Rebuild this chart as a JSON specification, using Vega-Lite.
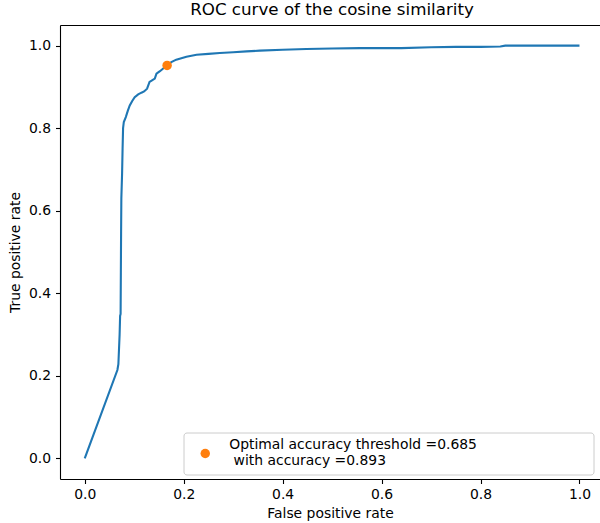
{
  "$schema": "https://vega.github.io/schema/vega-lite/v6.json",
  "width": 540,
  "height": 454,
  "autosize": {"type": "none"},
  "padding": {"left": 60, "top": 25, "right": 0, "bottom": 44},
  "background": "white",
  "title": {
    "text": "ROC curve of the cosine similarity",
    "anchor": "middle",
    "frame": "group",
    "dx": 2,
    "offset": -7,
    "baseline": "alphabetic",
    "font": "DejaVu Sans",
    "fontSize": 16.7,
    "fontWeight": "normal",
    "color": "black"
  },
  "config": {
    "view": {"stroke": null},
    "font": "DejaVu Sans",
    "axis": {
      "grid": false,
      "domainColor": "black",
      "domainWidth": 1.1,
      "tickColor": "black",
      "tickWidth": 1.1,
      "tickSize": 4.5,
      "labelFont": "DejaVu Sans",
      "labelFontSize": 13.9,
      "labelColor": "black",
      "titleFont": "DejaVu Sans",
      "titleFontSize": 13.9,
      "titleFontWeight": "normal",
      "titleColor": "black"
    }
  },
  "datasets": {
    "roc": [
      {"fpr": 0.0, "tpr": 0.0},
      {"fpr": 0.066, "tpr": 0.214},
      {"fpr": 0.068, "tpr": 0.228},
      {"fpr": 0.0705, "tpr": 0.3},
      {"fpr": 0.0715, "tpr": 0.345},
      {"fpr": 0.0725, "tpr": 0.35},
      {"fpr": 0.073, "tpr": 0.45},
      {"fpr": 0.0735, "tpr": 0.55},
      {"fpr": 0.074, "tpr": 0.63},
      {"fpr": 0.0755, "tpr": 0.69},
      {"fpr": 0.0765, "tpr": 0.75},
      {"fpr": 0.0775, "tpr": 0.8},
      {"fpr": 0.079, "tpr": 0.815},
      {"fpr": 0.083, "tpr": 0.827},
      {"fpr": 0.087, "tpr": 0.842},
      {"fpr": 0.091, "tpr": 0.855},
      {"fpr": 0.096, "tpr": 0.866},
      {"fpr": 0.101, "tpr": 0.875},
      {"fpr": 0.108, "tpr": 0.882},
      {"fpr": 0.1146, "tpr": 0.886},
      {"fpr": 0.12, "tpr": 0.889},
      {"fpr": 0.126, "tpr": 0.8956},
      {"fpr": 0.131, "tpr": 0.912},
      {"fpr": 0.136, "tpr": 0.916},
      {"fpr": 0.1416, "tpr": 0.92},
      {"fpr": 0.145, "tpr": 0.932},
      {"fpr": 0.152, "tpr": 0.938},
      {"fpr": 0.158, "tpr": 0.944},
      {"fpr": 0.1665, "tpr": 0.952},
      {"fpr": 0.175, "tpr": 0.96},
      {"fpr": 0.185, "tpr": 0.966},
      {"fpr": 0.2056, "tpr": 0.973},
      {"fpr": 0.226, "tpr": 0.978},
      {"fpr": 0.25, "tpr": 0.98},
      {"fpr": 0.273, "tpr": 0.982},
      {"fpr": 0.3, "tpr": 0.984},
      {"fpr": 0.327, "tpr": 0.986},
      {"fpr": 0.354, "tpr": 0.988},
      {"fpr": 0.4, "tpr": 0.99},
      {"fpr": 0.448, "tpr": 0.992},
      {"fpr": 0.5, "tpr": 0.993},
      {"fpr": 0.556, "tpr": 0.994},
      {"fpr": 0.6, "tpr": 0.994},
      {"fpr": 0.64, "tpr": 0.994},
      {"fpr": 0.7, "tpr": 0.996},
      {"fpr": 0.75, "tpr": 0.997},
      {"fpr": 0.8, "tpr": 0.997},
      {"fpr": 0.84, "tpr": 0.998},
      {"fpr": 0.85, "tpr": 1.0},
      {"fpr": 1.0, "tpr": 1.0}
    ],
    "best": [
      {"fpr": 0.1665, "tpr": 0.952, "label": "Optimal accuracy threshold =0.685|with accuracy =0.893"}
    ]
  },
  "layer": [
    {
      "data": {"name": "roc"},
      "mark": {"type": "line", "color": "#1f77b4", "strokeWidth": 2.1, "interpolate": "linear"},
      "encoding": {
        "x": {
          "field": "fpr", "type": "quantitative",
          "scale": {"domain": [-0.05, 1.0415], "nice": false, "zero": false},
          "axis": {"orient": "bottom", "values": [0, 0.2, 0.4, 0.6, 0.8, 1.0], "format": ".1f", "title": "False positive rate", "labelPadding": 4, "titlePadding": 5}
        },
        "y": {
          "field": "tpr", "type": "quantitative",
          "scale": {"domain": [-0.05, 1.05], "nice": false, "zero": false},
          "axis": {"values": [0, 0.2, 0.4, 0.6, 0.8, 1.0], "format": ".1f", "title": "True positive rate", "labelPadding": 5, "titlePadding": 6}
        },
        "order": {"field": "fpr", "type": "quantitative"}
      }
    },
    {
      "data": {"name": "best"},
      "mark": {"type": "point", "shape": "circle", "filled": true, "opacity": 1, "size": 90},
      "encoding": {
        "x": {
          "field": "fpr", "type": "quantitative",
          "axis": {"orient": "top", "domain": true, "ticks": false, "labels": false, "title": null}
        },
        "y": {"field": "tpr", "type": "quantitative"},
        "color": {
          "field": "label", "type": "nominal",
          "scale": {"range": ["#ff7f0e"]},
          "legend": {
            "title": null,
            "orient": "none",
            "legendX": 123.5,
            "legendY": 407.5,
            "direction": "vertical",
            "fillColor": "rgba(255,255,255,0.8)",
            "strokeColor": "#cccccc",
            "cornerRadius": 3,
            "padding": 5.8,
            "symbolType": "circle",
            "symbolSize": 90,
            "symbolOpacity": 1,
            "symbolOffset": 9,
            "labelOffset": 17,
            "labelFont": "DejaVu Sans",
            "labelFontSize": 13.9,
            "labelColor": "black",
            "labelLimit": 0,
            "labelLineHeight": 16.5,
            "labelExpr": "[split(datum.label, '|')[0] + '\\u00a0\\u00a0\\u00a0\\u00a0\\u00a0\\u00a0\\u00a0\\u00a0\\u00a0\\u00a0\\u00a0\\u00a0\\u00a0\\u00a0\\u00a0\\u00a0\\u00a0\\u00a0\\u00a0\\u00a0\\u00a0\\u00a0\\u00a0\\u00a0\\u00a0\\u200b', '\\u200b\\u00a0' + split(datum.label, '|')[1]]",
            "encode": {
              "symbols": {"update": {"y": {"value": 15.2}}}
            }
          }
        }
      }
    }
  ]
}
